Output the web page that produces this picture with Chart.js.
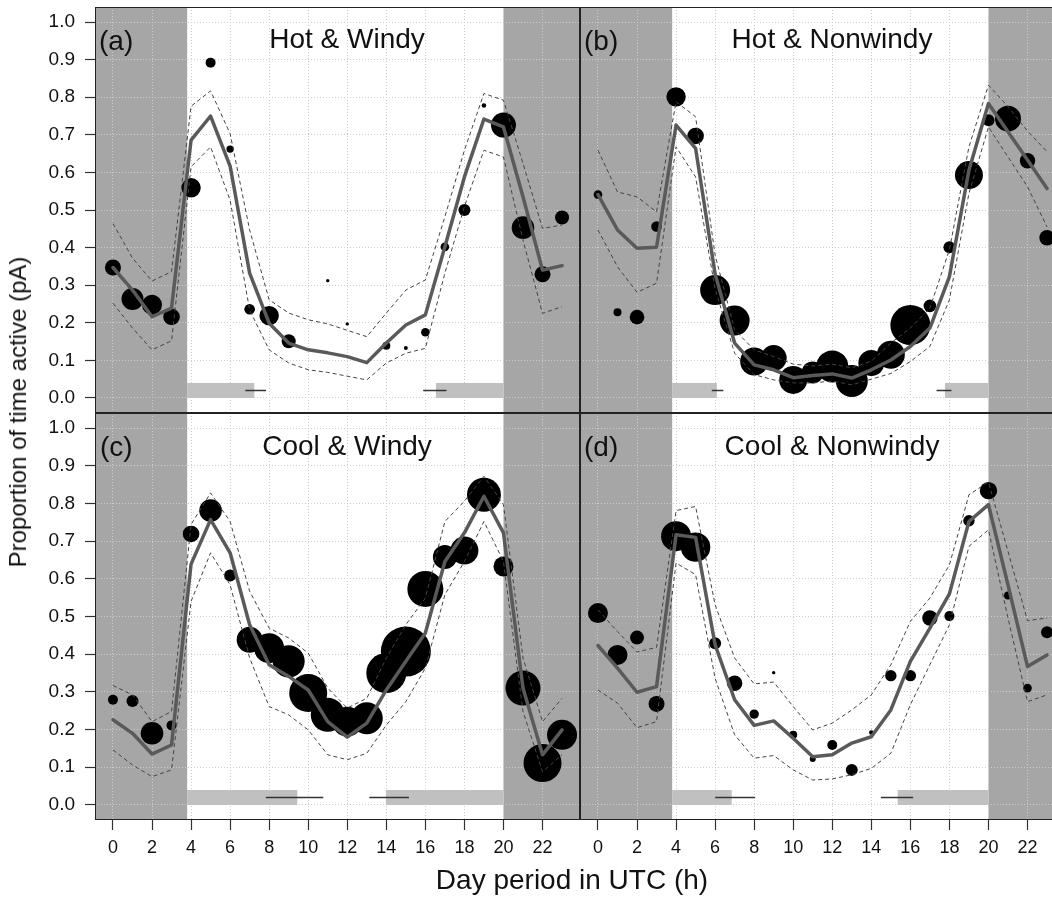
<!DOCTYPE html>
<html>
<head>
<meta charset="utf-8">
<script src="https://cdn.jsdelivr.net/npm/chart.js@4.4.0/dist/chart.umd.min.js"></script>
<style>
  html, body { margin: 0; padding: 0; background: #fff; }
  body { width: 1052px; height: 899px; overflow: hidden; position: relative;
         font-family: "Liberation Sans", Arial, Helvetica, sans-serif; color: #111; }
  .panel { position: absolute; }
  .panel canvas { display: block; }
  .tag { position: absolute; font-size: 28px; line-height: 28px; white-space: nowrap; }
  .ttl { position: absolute; font-size: 28px; line-height: 28px; white-space: nowrap; transform: translateX(-50%); }
  .axt { position: absolute; line-height: 1; white-space: nowrap; }
</style>
</head>
<body>
<div class="panel" style="left:0;top:0"><canvas id="pa" width="580" height="413"></canvas></div>
<div class="panel" style="left:580px;top:0"><canvas id="pb" width="485" height="413"></canvas></div>
<div class="panel" style="left:0;top:413px"><canvas id="pc" width="580" height="486"></canvas></div>
<div class="panel" style="left:580px;top:413px"><canvas id="pd" width="485" height="486"></canvas></div>

<div class="tag" style="left:99px;top:27px">(a)</div>
<div class="tag" style="left:584px;top:27px">(b)</div>
<div class="tag" style="left:100px;top:433px">(c)</div>
<div class="tag" style="left:584px;top:433px">(d)</div>
<div class="ttl" style="left:347px;top:25px">Hot &amp; Windy</div>
<div class="ttl" style="left:832px;top:25px">Hot &amp; Nonwindy</div>
<div class="ttl" style="left:347px;top:432px">Cool &amp; Windy</div>
<div class="ttl" style="left:832px;top:432px">Cool &amp; Nonwindy</div>

<div class="axt" style="left:572px;top:866px;font-size:28px;transform:translateX(-50%)">Day period in UTC (h)</div>
<div class="axt" style="left:18px;top:412px;font-size:24px;transform:translate(-50%,-50%) rotate(-90deg)">Proportion of time active (pA)</div>

<script>
const hours = [0, 1, 2, 3, 4, 5, 6, 7, 8, 9, 10, 11, 12, 13, 14, 15, 16, 17, 18, 19, 20, 21, 22, 23];
const xTicks = [0, 2, 4, 6, 8, 10, 12, 14, 16, 18, 20, 22];
const yTicks = [0, 0.1, 0.2, 0.3, 0.4, 0.5, 0.6, 0.7, 0.8, 0.9, 1.0];
const nightEnd = 3.8;     // dawn
const nightStart = 20;    // dusk
const barLevel = 0.02;    // where the sunrise / sunset ranges sit

// (a) Hot & Windy
const aObs  = [0.347, 0.263, 0.248, 0.216, 0.559, 0.892, 0.662, 0.236, 0.219, 0.151, null, 0.312, 0.197, null, 0.139, 0.133, 0.175, 0.402, 0.500, 0.778, 0.726, 0.453, 0.329, 0.480];
const aN    = [8, 11, 10, 8.3, 9.7, 5, 3.7, 5.3, 9.7, 7, 0, 1.7, 1.7, 0, 4, 2, 4.3, 4.3, 6, 2.3, 12.5, 11.3, 8, 7];
const aFit  = [0.347, 0.287, 0.216, 0.239, 0.686, 0.750, 0.617, 0.332, 0.199, 0.146, 0.128, 0.120, 0.110, 0.094, 0.146, 0.194, 0.221, 0.402, 0.588, 0.742, 0.721, 0.535, 0.340, 0.352];
const aHi   = [0.464, 0.372, 0.311, 0.336, 0.776, 0.817, 0.703, 0.447, 0.261, 0.226, 0.208, 0.197, 0.180, 0.163, 0.226, 0.287, 0.314, 0.482, 0.659, 0.810, 0.792, 0.624, 0.451, 0.460];
const aLo   = [0.252, 0.186, 0.128, 0.152, 0.615, 0.668, 0.526, 0.234, 0.128, 0.093, 0.075, 0.068, 0.058, 0.048, 0.093, 0.119, 0.132, 0.332, 0.509, 0.659, 0.641, 0.420, 0.225, 0.243];
const aRise = [3.8, 7.24], aRiseMid = [6.78, 7.84];
const aSet  = [16.54, 20], aSetMid = [15.89, 17.08];

// (b) Hot & Nonwindy
const bObs  = [0.541, 0.228, 0.215, 0.456, 0.801, 0.697, 0.287, 0.206, 0.097, 0.106, 0.048, 0.068, 0.084, 0.045, 0.093, 0.115, 0.194, 0.245, 0.401, 0.593, 0.739, 0.743, 0.631, 0.426];
const bN    = [4.3, 4, 7.3, 5.3, 9.7, 8.3, 15, 15, 14, 13, 14, 11, 16, 16, 13, 14, 20, 6.3, 6, 14, 6, 13, 7.7, 7.7];
const bFit  = [0.541, 0.447, 0.398, 0.401, 0.726, 0.664, 0.330, 0.146, 0.088, 0.075, 0.054, 0.060, 0.064, 0.053, 0.075, 0.101, 0.137, 0.186, 0.323, 0.606, 0.783, 0.708, 0.633, 0.557];
const bHi   = [0.659, 0.548, 0.535, 0.495, 0.788, 0.748, 0.380, 0.181, 0.128, 0.110, 0.090, 0.085, 0.090, 0.080, 0.098, 0.146, 0.186, 0.239, 0.394, 0.668, 0.832, 0.775, 0.710, 0.655];
const bLo   = [0.447, 0.349, 0.281, 0.305, 0.668, 0.588, 0.290, 0.119, 0.062, 0.048, 0.040, 0.040, 0.045, 0.035, 0.050, 0.065, 0.097, 0.137, 0.261, 0.544, 0.721, 0.641, 0.562, 0.455];
const bRise = [3.8, 6.09], bRiseMid = [5.83, 6.42];
const bSet  = [17.77, 20], bSetMid = [17.34, 18.1];

// (c) Cool & Windy
const cObs  = [0.279, 0.276, 0.190, 0.211, 0.719, 0.781, 0.609, 0.438, 0.416, 0.381, 0.297, 0.239, 0.221, 0.230, 0.350, 0.407, 0.573, 0.658, 0.675, 0.823, 0.633, 0.310, 0.111, 0.186];
const cN    = [5, 6, 11.3, 5, 8.3, 11.3, 6, 13, 15, 16, 19, 17, 15, 16, 20, 25, 18, 12, 14, 17, 10, 17.5, 19, 15];
const cFit  = [0.226, 0.190, 0.135, 0.159, 0.639, 0.757, 0.669, 0.478, 0.372, 0.341, 0.305, 0.221, 0.180, 0.217, 0.305, 0.381, 0.456, 0.646, 0.722, 0.819, 0.722, 0.310, 0.133, 0.199];
const cHi   = [0.317, 0.292, 0.221, 0.248, 0.744, 0.828, 0.752, 0.567, 0.469, 0.443, 0.403, 0.310, 0.257, 0.283, 0.390, 0.478, 0.549, 0.752, 0.806, 0.872, 0.797, 0.390, 0.221, 0.283];
const cLo   = [0.146, 0.106, 0.075, 0.093, 0.540, 0.669, 0.584, 0.390, 0.261, 0.239, 0.199, 0.133, 0.120, 0.137, 0.212, 0.274, 0.363, 0.558, 0.646, 0.752, 0.646, 0.248, 0.088, 0.133];
const cRise = [3.8, 9.44], cRiseMid = [7.83, 10.77];
const cSet  = [13.98, 20], cSetMid = [13.13, 15.16];

// (d) Cool & Nonwindy
const dObs  = [0.509, 0.398, 0.444, 0.268, 0.713, 0.684, 0.429, 0.323, 0.241, 0.351, 0.186, 0.122, 0.159, 0.093, 0.192, 0.343, 0.343, 0.496, 0.501, 0.754, 0.834, 0.556, 0.310, 0.458];
const dN    = [10, 10, 7, 8, 15, 14.7, 6, 7.7, 4.7, 1.7, 4, 3, 5, 6, 2.3, 5.7, 5.7, 7.7, 5, 5.7, 8.7, 4, 4.3, 6];
const dFit  = [0.423, 0.363, 0.299, 0.314, 0.717, 0.710, 0.425, 0.279, 0.211, 0.223, 0.177, 0.128, 0.133, 0.164, 0.181, 0.252, 0.381, 0.469, 0.560, 0.752, 0.797, 0.584, 0.367, 0.398];
const dHi   = [0.518, 0.460, 0.406, 0.418, 0.781, 0.792, 0.531, 0.390, 0.321, 0.326, 0.261, 0.199, 0.217, 0.252, 0.292, 0.372, 0.487, 0.549, 0.637, 0.823, 0.857, 0.673, 0.489, 0.496];
const dLo   = [0.305, 0.270, 0.205, 0.221, 0.642, 0.611, 0.336, 0.186, 0.124, 0.131, 0.093, 0.066, 0.069, 0.080, 0.097, 0.137, 0.266, 0.372, 0.478, 0.686, 0.730, 0.496, 0.274, 0.292];
const dRise = [3.8, 6.85], dRiseMid = [6.0, 8.05];
const dSet  = [15.35, 20], dSetMid = [14.49, 16.14];

const FONT = '"Liberation Sans", Arial, Helvetica, sans-serif';

// night shading goes under the grid, so draw it before the scales
const nightShade = {
  id: 'nightShade',
  beforeDraw(chart) {
    const { ctx, chartArea: a, scales: { x } } = chart;
    ctx.save();
    ctx.fillStyle = '#a6a6a6';
    const x1 = x.getPixelForValue(nightEnd);
    const x2 = x.getPixelForValue(nightStart);
    ctx.fillRect(a.left, a.top, x1 - a.left, a.bottom - a.top);
    ctx.fillRect(x2, a.top, a.right - x2, a.bottom - a.top);
    ctx.restore();
  }
};

const frame = {
  id: 'frame',
  afterDraw(chart) {
    const { ctx, chartArea: a } = chart;
    ctx.save();
    ctx.strokeStyle = '#222';
    ctx.lineWidth = 1;
    ctx.strokeRect(a.left + 0.5, a.top + 0.5, a.right - a.left - 1, a.bottom - a.top - 1);
    ctx.restore();
  }
};

const series = (ys) => hours.map((h, i) => ({ x: h, y: ys[i] }));
const span = (r1, r2) => [
  { x: r1[0], y: barLevel }, { x: r1[1], y: barLevel },
  { x: (r1[1] + r2[0]) / 2, y: null },
  { x: r2[0], y: barLevel }, { x: r2[1], y: barLevel }
];

function makePanel(id, p, showY, showX, padTop) {
  const scaleCommon = {
    type: 'linear',
    border: { display: false, dash: [1, 2] },
  };
  new Chart(document.getElementById(id), {
    type: 'scatter',
    data: {
      datasets: [
        { data: series(p.fit), showLine: true, borderColor: '#5a5a5a', borderWidth: 3.5,
          borderJoinStyle: 'round', borderCapStyle: 'round', pointRadius: 0, tension: 0, order: 0 },
        { data: series(p.hi), showLine: true, borderColor: '#444', borderWidth: 1,
          borderDash: [4, 3], pointRadius: 0, order: 1 },
        { data: series(p.lo), showLine: true, borderColor: '#444', borderWidth: 1,
          borderDash: [4, 3], pointRadius: 0, order: 1 },
        { data: span(p.riseMid, p.setMid), showLine: true, spanGaps: false, borderColor: '#333',
          borderWidth: 1.5, borderCapStyle: 'butt', pointRadius: 0, order: 2 },
        { data: series(p.obs), showLine: false, pointRadius: p.n, pointBackgroundColor: '#000',
          pointBorderWidth: 0, pointBorderColor: '#000', order: 3 },
        { data: span(p.rise, p.set), showLine: true, spanGaps: false, borderColor: '#c0c0c0',
          borderWidth: 15, borderCapStyle: 'butt', pointRadius: 0, order: 4 }
      ]
    },
    options: {
      responsive: false,
      animation: false,
      events: [],
      layout: { autoPadding: false, padding: { top: padTop, left: 0, right: 0, bottom: 0 } },
      plugins: { legend: { display: false }, tooltip: { enabled: false } },
      scales: {
        x: {
          ...scaleCommon,
          min: -0.92, max: 23.92,
          afterBuildTicks: s => { s.ticks = xTicks.map(v => ({ value: v })); },
          afterFit: s => { s.height = showX ? 79 : 0; s.paddingLeft = 0; s.paddingRight = 0; },
          ticks: { display: showX, padding: 7, maxRotation: 0, autoSkip: false, color: '#111',
                   font: { family: FONT, size: 18 } },
          grid: { color: '#cdcdcd', lineWidth: 1, drawTicks: showX, tickLength: 10,
                  tickColor: '#333', tickWidth: 1.2, tickBorderDash: [] }
        },
        y: {
          ...scaleCommon,
          min: -0.04, max: 1.04,
          afterBuildTicks: s => { s.ticks = yTicks.map(v => ({ value: v })); },
          afterFit: s => { s.width = showY ? 95 : 0; s.paddingTop = 0; s.paddingBottom = 0; },
          ticks: { display: showY, padding: 10, color: '#111', font: { family: FONT, size: 19 },
                   callback: v => Number(v).toFixed(1) },
          grid: { color: '#cdcdcd', lineWidth: 1, drawTicks: showY, tickLength: 10,
                  tickColor: '#333', tickWidth: 1.2, tickBorderDash: [] }
        }
      }
    },
    plugins: [nightShade, frame]
  });
}

makePanel('pa', { obs: aObs, n: aN, fit: aFit, hi: aHi, lo: aLo, rise: aRise, riseMid: aRiseMid, set: aSet, setMid: aSetMid }, true, false, 7);
makePanel('pb', { obs: bObs, n: bN, fit: bFit, hi: bHi, lo: bLo, rise: bRise, riseMid: bRiseMid, set: bSet, setMid: bSetMid }, false, false, 7);
makePanel('pc', { obs: cObs, n: cN, fit: cFit, hi: cHi, lo: cLo, rise: cRise, riseMid: cRiseMid, set: cSet, setMid: cSetMid }, true, true, 0);
makePanel('pd', { obs: dObs, n: dN, fit: dFit, hi: dHi, lo: dLo, rise: dRise, riseMid: dRiseMid, set: dSet, setMid: dSetMid }, false, true, 0);
</script>
</body>
</html>
